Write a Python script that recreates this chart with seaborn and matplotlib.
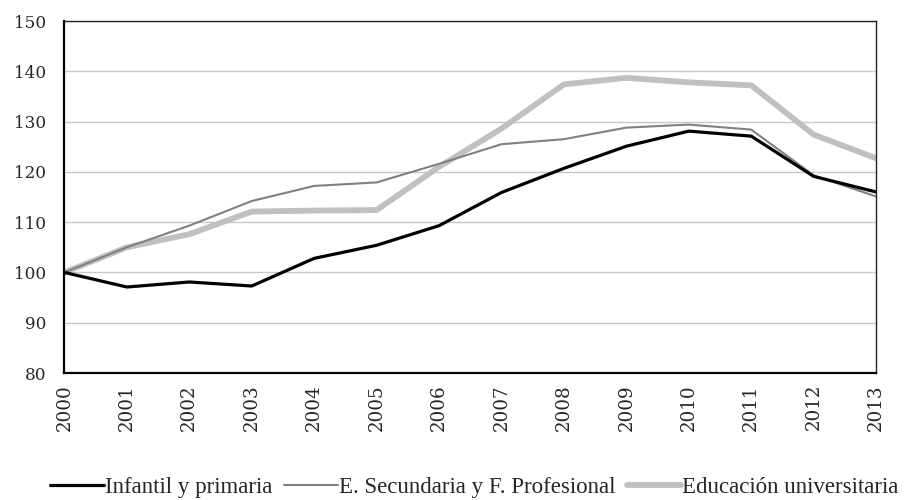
import pandas as pd
import seaborn as sns
import matplotlib
matplotlib.use("Agg")
import matplotlib.pyplot as plt

years = list(range(2000, 2014))
infantil = [100, 97.1, 98.1, 97.3, 102.8, 105.4, 109.3, 115.9, 120.7, 125.1, 128.1, 127.1, 119.1, 116.0]
secundaria = [100, 105.0, 109.3, 114.2, 117.2, 117.9, 121.6, 125.5, 126.5, 128.8, 129.4, 128.4, 119.3, 115.1]
universitaria = [100, 105.0, 107.6, 112.1, 112.3, 112.4, 121.0, 128.6, 137.4, 138.7, 137.8, 137.2, 127.4, 122.7]

series_names = ["Infantil y primaria", "E. Secundaria y F. Profesional", "Educación universitaria"]
colors = ["#000000", "#808080", "#c0c0c0"]
widths = [2.3, 1.5, 4.2]

sns.set_style("white")
plt.rcParams["font.family"] = ["DejaVu Serif"]

fig, ax = plt.subplots(figsize=(9.07, 5.0), dpi=100)
fig.subplots_adjust(left=0.071, right=0.966, bottom=0.254, top=0.958)

# light wide line first so the thinner ones sit on top where they overlap
values = [infantil, secundaria, universitaria]
for i in [2, 1, 0]:
    df = pd.DataFrame({"year": years, "value": values[i]})
    sns.lineplot(data=df, x="year", y="value", color=colors[i], linewidth=widths[i],
                 label=series_names[i], ax=ax, legend=False)

ax.set_xlim(2000, 2013)
ax.set_ylim(80, 150)
ax.set_yticks(range(80, 151, 10))
ax.set_xticks(years)
ax.set_xticklabels([str(y) for y in years], rotation=90)
ax.set_xlabel("")
ax.set_ylabel("")
ax.grid(axis="y", color="#c8c8c8", linewidth=1.0)
ax.set_axisbelow(True)

for side in ["left", "bottom"]:
    ax.spines[side].set_linewidth(1.6)
    ax.spines[side].set_color("black")
for side in ["top", "right"]:
    ax.spines[side].set_linewidth(1.0)
    ax.spines[side].set_color("#222222")
ax.tick_params(axis="both", direction="out", length=5, width=1.3, color="black")
ax.tick_params(axis="y", labelsize=12.2, pad=8)
ax.tick_params(axis="x", labelsize=13.2, pad=3)

handles, labels = ax.get_legend_handles_labels()
fig.legend(handles[::-1], labels[::-1], loc="center", bbox_to_anchor=(0.523, 0.026), ncol=3,
           frameon=False, handlelength=2.35, handletextpad=0.05, columnspacing=0.5,
           prop={"family": "Liberation Serif", "size": 16.5})

fig.savefig("out.png", dpi=100)
